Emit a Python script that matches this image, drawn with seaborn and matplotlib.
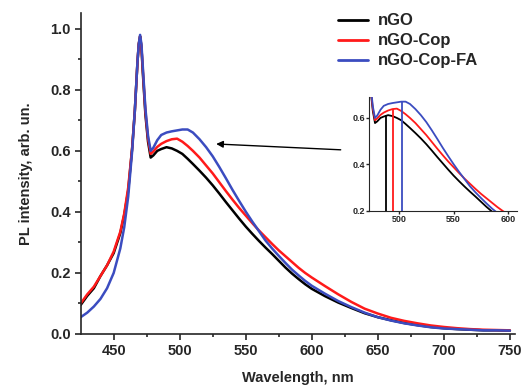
import numpy as np
import pandas as pd
import matplotlib
matplotlib.use("Agg")
import matplotlib.pyplot as plt
import seaborn as sns
from matplotlib.ticker import MultipleLocator

# wavelength grid (nm)
wavelength = [425, 430, 435, 440, 445, 450, 455, 458, 461, 464, 466, 468, 469, 470,
              471, 472, 474, 476, 478, 480, 483, 486, 490, 494, 498, 502, 506, 510,
              515, 520, 525, 530, 535, 540, 545, 550, 555, 560, 565, 570, 575, 580,
              585, 590, 595, 600, 610, 620, 630, 640, 650, 660, 670, 680, 690, 700,
              710, 720, 730, 740, 750]

ngo = [0.095, 0.125, 0.15, 0.19, 0.225, 0.265, 0.33, 0.39, 0.47, 0.61, 0.73, 0.89, 0.95, 0.975,
       0.94, 0.86, 0.72, 0.63, 0.578, 0.585, 0.60, 0.606, 0.612, 0.608, 0.60, 0.59, 0.574, 0.557,
       0.535, 0.512, 0.487, 0.46, 0.432, 0.405, 0.378, 0.352, 0.328, 0.305, 0.283, 0.262, 0.24, 0.218,
       0.198, 0.18, 0.163, 0.148, 0.124, 0.103, 0.085, 0.068, 0.055, 0.045, 0.036, 0.029, 0.023, 0.019,
       0.016, 0.014, 0.012, 0.012, 0.011]

ngo_cop = [0.10, 0.13, 0.155, 0.19, 0.225, 0.27, 0.335, 0.395, 0.48, 0.61, 0.73, 0.89, 0.95, 0.975,
           0.94, 0.87, 0.73, 0.64, 0.59, 0.598, 0.613, 0.623, 0.632, 0.638, 0.64, 0.63, 0.616, 0.60,
           0.578, 0.552, 0.526, 0.497, 0.468, 0.44, 0.413, 0.388, 0.363, 0.339, 0.317, 0.295, 0.274, 0.255,
           0.236, 0.217, 0.2, 0.185, 0.157, 0.13, 0.105, 0.083, 0.067, 0.053, 0.043, 0.035, 0.028, 0.023,
           0.019, 0.016, 0.014, 0.013, 0.012]

ngo_cop_fa = [0.055, 0.07, 0.09, 0.115, 0.15, 0.2, 0.28, 0.35, 0.45, 0.60, 0.73, 0.89, 0.95, 0.98,
              0.95, 0.88, 0.74, 0.65, 0.60, 0.61, 0.635, 0.652, 0.66, 0.664, 0.667, 0.670, 0.670, 0.660,
              0.638, 0.612, 0.582, 0.547, 0.51, 0.472, 0.436, 0.401, 0.368, 0.337, 0.306, 0.28, 0.256, 0.233,
              0.211, 0.192, 0.174, 0.158, 0.132, 0.108, 0.088, 0.07, 0.055, 0.044, 0.035, 0.028, 0.022, 0.018,
              0.016, 0.014, 0.012, 0.012, 0.011]

labels = ["nGO", "nGO-Cop", "nGO-Cop-FA"]
colors = ["#000000", "#ff1a1a", "#3b4cc0"]

# peak positions marked in the inset
peak_nm = [488, 494.5, 503]
peak_val = [0.612, 0.638, 0.670]

df = pd.concat([
    pd.DataFrame({"Wavelength": wavelength, "PL": ngo, "sample": labels[0]}),
    pd.DataFrame({"Wavelength": wavelength, "PL": ngo_cop, "sample": labels[1]}),
    pd.DataFrame({"Wavelength": wavelength, "PL": ngo_cop_fa, "sample": labels[2]}),
])

sns.set_style("ticks")
plt.rcParams["font.family"] = ["Liberation Sans", "DejaVu Sans"]
plt.rcParams["font.weight"] = "bold"

fig = plt.figure(figsize=(5.23, 3.85), dpi=100)
ax = fig.add_axes([0.155, 0.1325, 0.83, 0.834])
sns.lineplot(data=df, x="Wavelength", y="PL", hue="sample", palette=colors,
             linewidth=1.8, ax=ax, legend=True)

ax.set_xlim(425.3, 754)
ax.set_ylim(0, 1.052)
ax.xaxis.set_major_locator(MultipleLocator(50))
ax.xaxis.set_minor_locator(MultipleLocator(25))
ax.yaxis.set_major_locator(MultipleLocator(0.2))
ax.yaxis.set_minor_locator(MultipleLocator(0.1))
ax.tick_params(which="both", direction="out", width=1.2, labelsize=10.5)
ax.tick_params(which="major", length=4)
ax.tick_params(which="minor", length=2.5)
for lab in ax.get_xticklabels() + ax.get_yticklabels():
    lab.set_fontweight("bold")
ax.set_xlabel("Wavelength, nm", fontsize=10.5, fontweight="bold", labelpad=9)
ax.set_ylabel("PL intensity, arb. un.", fontsize=10.5, fontweight="bold", labelpad=12)
for s in ["left", "bottom"]:
    ax.spines[s].set_linewidth(1.2)
sns.despine(ax=ax)

leg = ax.legend(loc="upper left", bbox_to_anchor=(0.558, 1.045), frameon=False,
                handlelength=1.8, labelspacing=0.3, handletextpad=0.6,
                prop={"weight": "bold", "size": 12})
for h in leg.get_lines():
    h.set_linewidth(2)

ax.annotate("", xy=(525.5, 0.623), xytext=(624, 0.603),
            arrowprops=dict(arrowstyle="-|>", color="black", lw=1.0, mutation_scale=10))

# inset zoom on the broad band
ins = fig.add_axes([369 / 523, 1 - 211 / 385, 148 / 523, 114 / 385])
sns.lineplot(data=df, x="Wavelength", y="PL", hue="sample", palette=colors,
             linewidth=1.3, ax=ins, legend=False)
for x, v, c in zip(peak_nm, peak_val, colors):
    ins.vlines(x, 0.2, v, color=c, lw=1.3)
ins.set_xlim(472.5, 608)
ins.set_ylim(0.2, 0.69)
ins.set_xticks([500, 550, 600])
ins.set_yticks([0.2, 0.4, 0.6])
ins.set_xlabel("")
ins.set_ylabel("")
ins.tick_params(direction="out", length=2, width=1, labelsize=6.5, pad=1)
for lab in ins.get_xticklabels() + ins.get_yticklabels():
    lab.set_fontweight("bold")
ins.patch.set_alpha(0)
sns.despine(ax=ins)

fig.savefig("out.png", dpi=100)
plt.close(fig)
